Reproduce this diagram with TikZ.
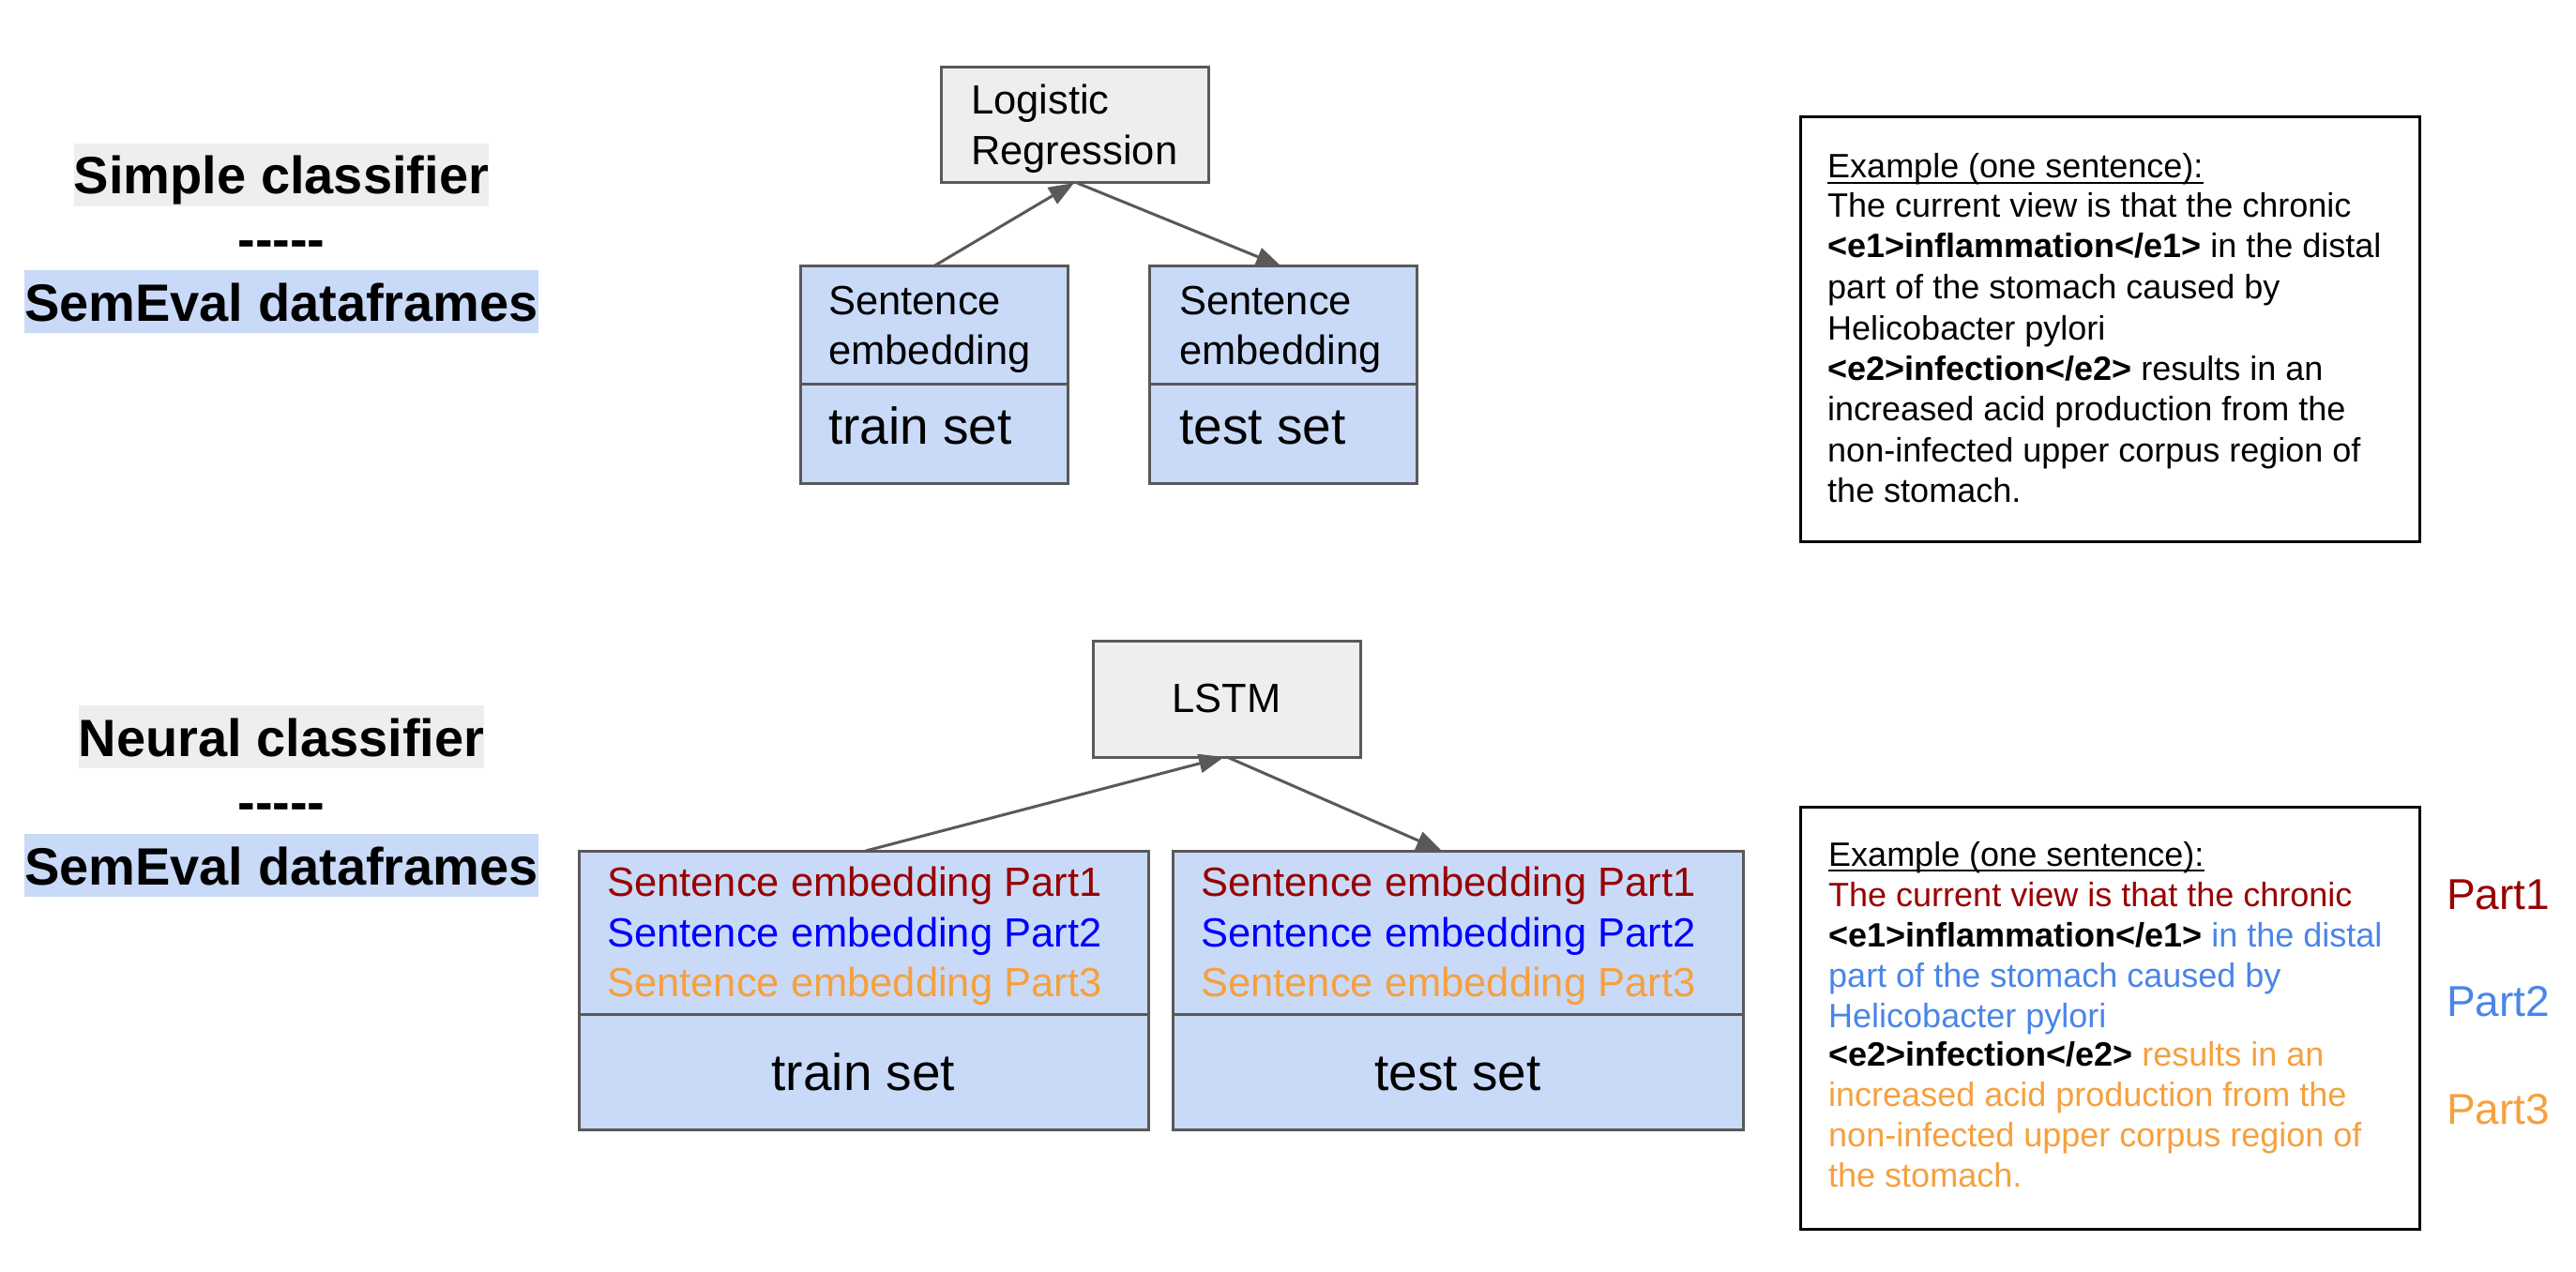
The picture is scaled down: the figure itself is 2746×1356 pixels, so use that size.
\documentclass[tikz,border=0pt]{standalone}
\usepackage{fontspec}
\setmainfont{Liberation Sans}
\usetikzlibrary{arrows.meta}
\newcommand{\myfs}[1]{\fontsize{#1pt}{#1pt}\selectfont}
\definecolor{boxgray}{HTML}{595959}
\definecolor{fillgray}{HTML}{EEEEEE}
\definecolor{fillblue}{HTML}{C9DAF8}
\definecolor{pone}{HTML}{990000}
\definecolor{ptwo}{HTML}{4A86E8}
\definecolor{pthree}{HTML}{F6A03E}
\definecolor{pureblue}{HTML}{0000FF}
\begin{document}
\begin{tikzpicture}[x=1pt,y=-1pt,
  box/.style={draw=boxgray, line width=3pt, inner sep=0pt, outer sep=0pt, anchor=north west},
  graybox/.style={box, fill=fillgray},
  bluebox/.style={box, fill=fillblue},
  exbox/.style={draw=black, line width=3pt, fill=white, inner sep=0pt, outer sep=0pt, anchor=north west},
  txt/.style={inner sep=0pt, anchor=base west, font=\myfs{43.5}},
  bigtxt/.style={inner sep=0pt, anchor=base, font=\myfs{55}},
  ex/.style={inner sep=0pt, anchor=base west, font=\myfs{36}},
  lbl/.style={inner sep=0pt, anchor=base, font=\bfseries\myfs{56}, text height=54pt, text depth=13pt},
  part/.style={inner sep=0pt, anchor=base west, font=\myfs{46}},
  arr/.style={draw=boxgray, line width=3pt, -{Triangle[length=27pt,width=20pt]}}
]
\path[use as bounding box, fill=white] (0,0) rectangle (2746,1356);

% left labels
\node[lbl, fill=fillgray] (simple) at (300,207) {Simple classifier};
\node[lbl] (dash1) at (300,275) {-{}-{}-{}-{}-};
\node[lbl, fill=fillblue] (sem1) at (300,342) {SemEval dataframes};
\node[lbl, fill=fillgray] (neural) at (300,806) {Neural classifier};
\node[lbl] (dash2) at (300,874) {-{}-{}-{}-{}-};
\node[lbl, fill=fillblue] (sem2) at (300,943) {SemEval dataframes};

% top diagram
\node[graybox, minimum width=285pt, minimum height=123pt] (lr) at (1003,72) {};
\node[txt] (lrt1) at (1035,122) {Logistic};
\node[txt] (lrt2) at (1035,176) {Regression};

\node[bluebox, minimum width=285pt, minimum height=125pt] (tremb) at (853,284) {};
\node[bluebox, minimum width=285pt, minimum height=106pt] (trset) at (853,409) {};
\node[txt] (tre1) at (883,335) {Sentence};
\node[txt] (tre2) at (883,388) {embedding};
\node[txt, font=\myfs{55}] (trs) at (883,473) {train set};

\node[bluebox, minimum width=285pt, minimum height=125pt] (teemb) at (1225,284) {};
\node[bluebox, minimum width=285pt, minimum height=106pt] (teset) at (1225,409) {};
\node[txt] (tee1) at (1257,335) {Sentence};
\node[txt] (tee2) at (1257,388) {embedding};
\node[txt, font=\myfs{55}] (tes) at (1257,473) {test set};

\draw[arr] ([xshift=142pt]tremb.north west) -- ([xshift=142pt]lr.south west);
\draw[arr] ([xshift=145pt]lr.south west) -- ([xshift=141pt]teemb.north west);

% top example
\node[exbox, minimum width=660pt, minimum height=452pt] (exa) at (1919,125) {};
\node[ex] (a0) at (1948,190) {Example (one sentence):};
\draw[line width=2pt] ([yshift=-5pt]a0.base west) -- ([yshift=-5pt]a0.base east);
\node[ex] (a1) at (1948,232) {The current view is that the chronic};
\node[ex] (a2) at (1948,275) {\textbf{<e1>inflammation</e1>} in the distal};
\node[ex] (a3) at (1948,318) {part of the stomach caused by};
\node[ex] (a4) at (1948,362) {Helicobacter pylori};
\node[ex] (a5) at (1948,405) {\textbf{<e2>infection</e2>} results in an};
\node[ex] (a6) at (1948,448) {increased acid production from the};
\node[ex] (a7) at (1948,492) {non-infected upper corpus region of};
\node[ex] (a8) at (1948,535) {the stomach.};

% bottom diagram
\node[graybox, minimum width=285pt, minimum height=124pt] (lstm) at (1165,683) {};
\node[inner sep=0pt, font=\myfs{43.5}] (lstmt) at (lstm.center) {LSTM};

\node[bluebox, minimum width=607pt, minimum height=174pt] (bemb) at (617,907) {};
\node[bluebox, minimum width=607pt, minimum height=123pt] (bset) at (617,1081) {};
\node[txt, text=pone] (b1) at (647,955) {Sentence embedding Part1};
\node[txt, text=pureblue] (b2) at (647,1009) {Sentence embedding Part2};
\node[txt, text=pthree] (b3) at (647,1062) {Sentence embedding Part3};
\node[bigtxt] (bs) at (920.5,1162) {train set};

\node[bluebox, minimum width=608pt, minimum height=174pt] (cemb) at (1250,907) {};
\node[bluebox, minimum width=608pt, minimum height=123pt] (cset) at (1250,1081) {};
\node[txt, text=pone] (c1) at (1280,955) {Sentence embedding Part1};
\node[txt, text=pureblue] (c2) at (1280,1009) {Sentence embedding Part2};
\node[txt, text=pthree] (c3) at (1280,1062) {Sentence embedding Part3};
\node[bigtxt] (cs) at (1554,1162) {test set};

\draw[arr] ([xshift=306pt]bemb.north west) -- ([xshift=140pt]lstm.south west);
\draw[arr] ([xshift=143pt]lstm.south west) -- ([xshift=287pt]cemb.north west);

% bottom example
\node[exbox, minimum width=660pt, minimum height=450pt] (exb) at (1919,860) {};
\node[ex] (d0) at (1949,923) {Example (one sentence):};
\draw[line width=2pt] ([yshift=-5pt]d0.base west) -- ([yshift=-5pt]d0.base east);
\node[ex, text=pone] (d1) at (1949,966) {The current view is that the chronic};
\node[ex] (d2) at (1949,1009) {\textbf{<e1>inflammation</e1>} \textcolor{ptwo}{in the distal}};
\node[ex, text=ptwo] (d3) at (1949,1052) {part of the stomach caused by};
\node[ex, text=ptwo] (d4) at (1949,1095) {Helicobacter pylori};
\node[ex] (d5) at (1949,1136) {\textbf{<e2>infection</e2>} \textcolor{pthree}{results in an}};
\node[ex, text=pthree] (d6) at (1949,1179) {increased acid production from the};
\node[ex, text=pthree] (d7) at (1949,1222) {non-infected upper corpus region of};
\node[ex, text=pthree] (d8) at (1949,1265) {the stomach.};

\node[part, text=pone] (p1) at (2608,969) {Part1};
\node[part, text=ptwo] (p2) at (2608,1083) {Part2};
\node[part, text=pthree] (p3) at (2608,1198) {Part3};
\end{tikzpicture}
\end{document}
